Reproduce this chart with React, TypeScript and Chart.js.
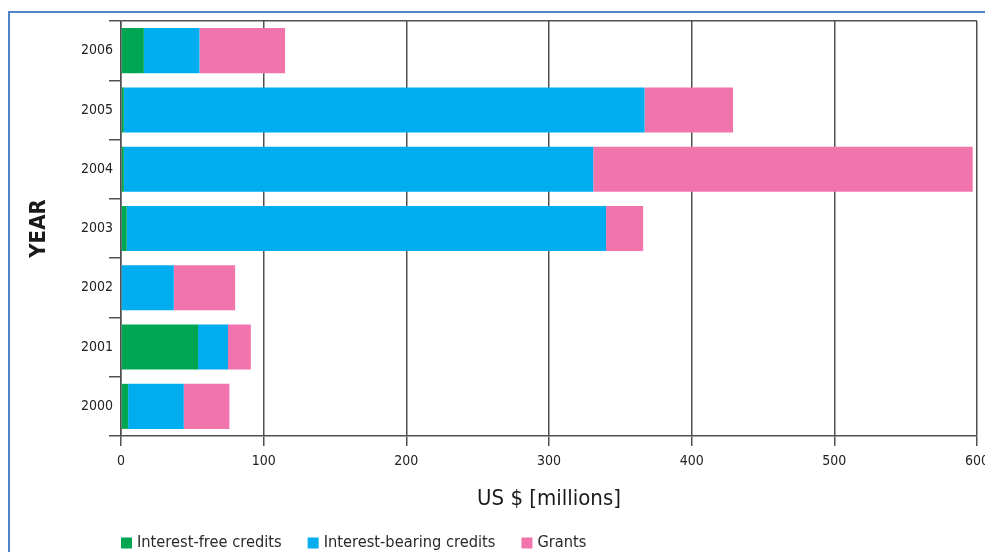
import React, { useEffect, useRef } from "react";
import { Chart, registerables } from "chart.js";

Chart.register(...registerables);

const years = ["2006", "2005", "2004", "2003", "2002", "2001", "2000"];
const interestFree = [16, 2, 2, 4, 0, 54, 5];
const interestBearing = [39, 365, 329, 336, 37, 21, 39];
const grants = [60, 62, 266, 26, 43, 16, 32];
const xTicks = [0, 100, 200, 300, 400, 500, 600];
const seriesNames = ["Interest-free credits", "Interest-bearing credits", "Grants"];
const seriesColors = ["#00a651", "#00aeef", "#f175ac"];

const FONT = "'DejaVu Sans Condensed', 'DejaVu Sans', sans-serif";
const LINE = "#505050";

const legendPlugin = {
  id: "customLegend",
  afterDraw(chart: any) {
    const ctx = chart.ctx;
    const left = chart.chartArea.left;
    const y = 543;
    ctx.save();
    ctx.font = `16.3px ${FONT}`;
    ctx.textBaseline = "middle";
    ctx.textAlign = "left";
    let x = left;
    chart.data.datasets.forEach((ds: any) => {
      ctx.fillStyle = ds.backgroundColor;
      ctx.fillRect(x, y - 5.5, 11, 11);
      ctx.fillStyle = "#2a2a2a";
      ctx.fillText(ds.label, x + 16, y);
      x += 16 + ctx.measureText(ds.label).width + 26;
    });
    ctx.restore();
  },
};

export default function App() {
  const canvasRef = useRef<HTMLCanvasElement | null>(null);

  useEffect(() => {
    if (!canvasRef.current) return;
    const chart = new Chart(canvasRef.current, {
      type: "bar",
      data: {
        labels: years,
        datasets: [
          { label: seriesNames[0], data: interestFree, backgroundColor: seriesColors[0] },
          { label: seriesNames[1], data: interestBearing, backgroundColor: seriesColors[1] },
          { label: seriesNames[2], data: grants, backgroundColor: seriesColors[2] },
        ],
      },
      options: {
        indexAxis: "y",
        responsive: false,
        animation: false,
        devicePixelRatio: 1,
        datasets: { bar: { barPercentage: 0.76, categoryPercentage: 1 } },
        layout: { padding: { left: 0, top: 21, right: 23, bottom: 36 } },
        plugins: {
          legend: { display: false },
          tooltip: { enabled: false },
        },
        scales: {
          x: {
            stacked: true,
            min: 0,
            max: 600,
            afterBuildTicks: (scale: any) => {
              scale.ticks = xTicks.map((v) => ({ value: v }));
            },
            afterFit: (scale: any) => {
              scale.height = 80;
            },
            grid: {
              color: LINE,
              lineWidth: 1.5,
              tickLength: 10,
              tickColor: LINE,
            },
            border: { color: LINE, width: 1.5 },
            ticks: {
              padding: 7,
              color: "#222222",
              font: { family: FONT, size: 14 },
            },
            title: {
              display: true,
              text: "US $ [millions]",
              color: "#1a1a1a",
              font: { family: FONT, size: 22 },
              padding: { top: 0, bottom: 4 },
            },
          },
          y: {
            stacked: true,
            afterFit: (scale: any) => {
              scale.width = 121;
            },
            grid: {
              offset: true,
              color: (ctx: any) => (ctx.index === 0 ? LINE : "rgba(0,0,0,0)"),
              lineWidth: 1.5,
              tickLength: 12,
              tickColor: LINE,
            },
            border: { color: LINE, width: 1.5 },
            ticks: {
              padding: -4,
              color: "#222222",
              font: { family: FONT, size: 14 },
            },
            title: {
              display: true,
              text: "YEAR",
              color: "#1a1a1a",
              font: { family: FONT, size: 22, weight: "bold" },
              padding: { top: 26.5, bottom: 0 },
            },
          },
        },
      },
      plugins: [legendPlugin],
    });
    return () => chart.destroy();
  }, []);

  return (
    <div
      style={{
        position: "fixed",
        left: 0,
        top: 0,
        width: 985,
        height: 552,
        overflow: "hidden",
        background: "#ffffff",
      }}
    >
      <div
        style={{
          position: "absolute",
          left: 8,
          top: 11,
          width: 2000,
          height: 2000,
          borderLeft: "2px solid #5083c8",
          borderTop: "2px solid #5083c8",
        }}
      />
      <canvas
        ref={canvasRef}
        width={1000}
        height={552}
        style={{ position: "absolute", left: 0, top: 0, width: 1000, height: 552, display: "block" }}
      />
    </div>
  );
}
